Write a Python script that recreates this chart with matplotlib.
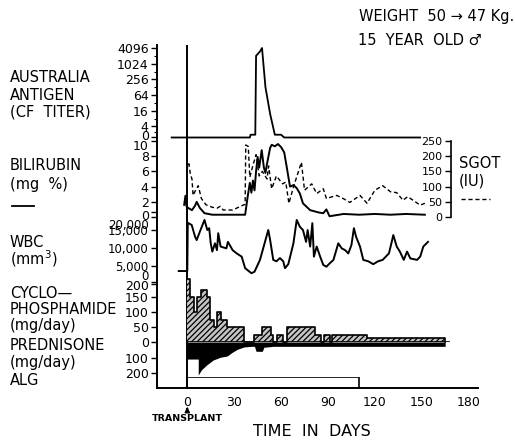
"""
Clinical course chart: antigen titer, bilirubin/SGOT, WBC and immunosuppression
Saves out.png (515x440)
"""

import matplotlib
matplotlib.use("Agg")
import matplotlib.pyplot as plt
from matplotlib.lines import Line2D
from matplotlib.transforms import ScaledTranslation
import numpy as np

# ── Data (days after transplant) ─────────────────────────────────────────────
ag_day = [-10, 40, 40.5, 43.5, 44, 46.5, 47.8, 50, 53, 56, 60, 62, 149]
ag_titer = [0, 0, 1, 1, 2048, 3000, 4096, 128, 12, 1, 1, 0, 0]
ag_ticks = [0, 4, 16, 64, 256, 1024, 4096]

bili_day = [-2, -1.2, -0.5, 0.5, 3, 5, 6, 8, 11, 16, 25, 37, 38.5, 40, 41,
            42, 43, 44, 45, 46, 47.6, 49, 50, 51, 53, 54, 56, 58, 60, 62,
            63.6, 65.7, 68, 70, 72, 74, 78.6, 84, 87, 89, 91, 100, 110, 120,
            130, 140, 152]
bili = [1.6, 2.8, 1.4, 1.2, 0.9, 1.5, 2.0, 1.2, 0.5, 0.3, 0.3, 0.3, 2.5, 4.5,
        3.2, 4.8, 3.5, 6.0, 7.9, 6.5, 8.8, 6.5, 5.8, 7.0, 9.1, 9.5, 9.3, 9.6,
        9.2, 8.5, 6.6, 4.0, 4.2, 3.8, 3.1, 1.8, 0.9, 0.6, 0.5, 1.0, 0.1, 0.4,
        0.3, 0.4, 0.3, 0.4, 0.3]

sgot_day = [-0.5, 1, 2, 3, 3.7, 5, 7, 9, 12, 16, 19, 21, 23, 29, 34, 37,
            37.4, 39, 40, 42, 44, 46, 48, 51, 52, 54, 57, 61, 63, 65, 68, 73,
            75, 79.6, 82.8, 87, 89, 95.6, 100, 104, 110.5, 115, 120, 125, 130,
            134, 138, 141, 149, 152]
sgot = [150, 175, 140, 125, 71, 85, 103, 61, 40, 32, 29, 35, 23, 23, 35, 42,
        237, 232, 131, 170, 205, 135, 150, 125, 168, 93, 135, 109, 115, 45,
        100, 180, 88, 109, 77, 93, 61, 71, 60, 48, 71, 45, 88, 103, 83, 80,
        55, 67, 39, 45]

wbc_day = [-5.5, 0, 0.3, 2.8, 5, 6, 8, 11, 12.8, 14, 15, 16, 17.7, 19, 19.8,
           21.3, 25, 26, 29, 31.6, 34.8, 37, 41, 43, 46.5, 49.7, 51.8, 53, 55,
           57, 59.3, 61.4, 62.5, 64.6, 67.9, 70, 72, 74, 76, 77, 78.6, 80, 81,
           82.8, 85, 87, 89, 91, 93.5, 96.6, 98.8, 101, 103, 105, 106.6, 108,
           110.5, 112.6, 115.8, 119, 122, 125, 129, 130.8, 131.8, 134, 136,
           138.5, 140.6, 142.7, 147, 149, 151, 154]
wbc = [3600, 3600, 17000, 16400, 13100, 12200, 14500, 17800, 15000, 15500,
       11300, 9000, 11300, 9400, 14100, 10400, 9900, 11700, 9400, 8500, 7600,
       4400, 3000, 3400, 6700, 11700, 15000, 12200, 6700, 6300, 7200, 6300,
       4400, 5500, 11300, 17800, 15900, 15000, 11700, 15000, 10400, 16900,
       7600, 10400, 7600, 5300, 4800, 5700, 6700, 11300, 9900, 9400, 8500,
       10800, 15500, 13100, 10400, 6700, 6300, 5500, 6300, 6700, 8500, 11700,
       13600, 10400, 9000, 6700, 9000, 7100, 6700, 7600, 10400, 11700]

# cyclophosphamide: dose from each day until the next listed day
cy_day = [0, 1.7, 4.3, 6, 9, 12.4, 14.5, 17, 19.2, 21.4, 25.6, 36.3, 42.7,
          48, 53.3, 55, 57.2, 61.4, 64, 81.7, 85.3, 87.5, 91.3, 92.4, 114.8,
          165]
cy_dose = [210, 150, 100, 150, 175, 150, 75, 50, 100, 75, 50, 0, 25, 50, 25,
           0, 25, 0, 50, 25, 0, 25, 0, 25, 15, 0]

pred_day = [0, 7, 7, 9, 12.4, 16.6, 21, 25.6, 28.4, 32, 36.3, 41, 43, 44, 48,
            49, 55, 165, 165]
pred_dose = [110, 110, 213, 180, 148, 116, 99, 90, 69, 47, 32, 28, 28, 60, 60,
             34, 28, 28, 0]

alg_start, alg_end = 0, 110
day_ticks = [0, 30, 60, 90, 120, 150, 180]

# ── Layout (pixels of the 515x440 canvas) ────────────────────────────────────
W, H, DPI = 515, 440, 100
X_LEFT, X_RIGHT = 157, 478
DAY0_PX, PX_PER_DAY = 187.3, 1.563

plt.rcParams["font.family"] = "DejaVu Sans"
plt.rcParams["hatch.linewidth"] = 0.9
fig = plt.figure(figsize=(W / DPI, H / DPI), dpi=DPI)


def px2day(x):
    return (x - DAY0_PX) / PX_PER_DAY


def panel(y_top, y_bot):
    ax = fig.add_axes([X_LEFT / W, 1 - y_bot / H,
                       (X_RIGHT - X_LEFT) / W, (y_bot - y_top) / H])
    ax.set_xlim(px2day(X_LEFT), px2day(X_RIGHT))
    ax.patch.set_visible(False)
    for s in ax.spines.values():
        s.set_visible(False)
    ax.tick_params(axis="x", bottom=False, labelbottom=False)
    ax.tick_params(axis="y", direction="out", length=4, width=1,
                   labelsize=9, pad=2)
    return ax


def nudge(ax, shifts):
    # shift crowded tick labels vertically (px, + = down)
    labels = ax.get_yticklabels()
    for i, dy in shifts.items():
        lab = labels[i]
        lab.set_transform(lab.get_transform() +
                          ScaledTranslation(0, -dy / DPI, fig.dpi_scale_trans))


# main frame
ax0 = panel(45, 388)
ax0.set_ylim(0, 1)
ax0.set_yticks([])
for s in ["left", "bottom"]:
    ax0.spines[s].set_visible(True)
    ax0.spines[s].set_linewidth(1.4)
ax0.tick_params(axis="x", bottom=True, labelbottom=True, length=0,
                labelsize=9, pad=6)
ax0.set_xticks(day_ticks)
ax0.axvline(0, color="black", lw=1.4)
ax0.annotate("", xy=(0, -0.047), xytext=(0, -0.072),
             xycoords=("data", "axes fraction"),
             arrowprops=dict(arrowstyle="-|>", color="black", lw=1.2,
                             mutation_scale=7))
ax0.text(0, -0.088, "TRANSPLANT", transform=ax0.get_xaxis_transform(),
         ha="center", va="center", fontsize=6.8, fontweight="bold")


# ── Australia antigen (log-4 titer scale) ────────────────────────────────────
def ag_fwd(v):
    v = np.asarray(v, float)
    return np.where(v >= 4, np.log(np.maximum(v, 4)) / np.log(4),
                    0.29 + 0.71 * v / 4)


def ag_inv(p):
    p = np.asarray(p, float)
    return np.where(p >= 1, 4.0 ** p, (p - 0.29) / 0.71 * 4)


ax1 = panel(48, 137.5)
ax1.set_yscale("function", functions=(ag_fwd, ag_inv))
ax1.set_ylim(0, 4096)
ax1.set_yticks(ag_ticks, [str(t) for t in ag_ticks])
ax1.set_yticks([2, 8, 32, 128, 512, 2048], minor=True)
ax1.tick_params(axis="y", which="minor", length=2.5, width=0.8, direction="out")
ax1.plot(ag_day, ag_titer, color="black", lw=1.3, clip_on=False)
nudge(ax1, {0: -2})

# ── Bilirubin + SGOT ─────────────────────────────────────────────────────────
ax2 = panel(141, 217)
ax2.set_ylim(0, 10)
ax2.set_yticks([0, 2, 4, 6, 8, 10])
ax2.plot(bili_day, bili, color="black", lw=1.4, clip_on=False)
nudge(ax2, {0: -2, 5: 4})

ax_s = panel(141, 217)
ax_s.set_ylim(0, 250)
ax_s.spines["left"].set_visible(True)
ax_s.spines["left"].set_position(("data", px2day(451)))
ax_s.spines["left"].set_linewidth(1.2)
ax_s.set_yticks([0, 50, 100, 150, 200, 250])
ax_s.tick_params(axis="y", labelsize=8)
ax_s.plot(sgot_day, sgot, color="black", lw=1.0, dashes=(3, 2), clip_on=False)

# ── WBC ──────────────────────────────────────────────────────────────────────
ax3 = panel(212, 284)
ax3.set_ylim(0, 20000)
ax3.set_yticks([0, 5000, 10000, 15000, 20000],
               ["0", "5,000", "10,000", "15,000", "20,000"])
ax3.tick_params(axis="y", labelsize=8.5)
ax3.plot(wbc_day, wbc, color="black", lw=1.4, clip_on=False)
nudge(ax3, {0: -9, 4: 12})

# ── Cyclophosphamide (hatched, up) ───────────────────────────────────────────
ax4 = panel(282, 342)
ax4.set_ylim(0, 200)
ax4.set_yticks([0, 50, 100, 150, 200])
ax4.fill_between(cy_day, cy_dose, step="post", facecolor="#c4c4c4",
                 edgecolor="black", hatch="//////", linewidth=0,
                 clip_on=False)
ax4.step(cy_day, cy_dose, where="post", color="black", lw=1.2, clip_on=False)
ax4.hlines(0, 0, 168, color="black", lw=1.2)
nudge(ax4, {4: 3})

# ── Prednisone (solid, down) ─────────────────────────────────────────────────
ax5 = panel(342, 342 + 215 * 0.155)
ax5.set_ylim(215, 0)
ax5.set_yticks([100, 200])
ax5.fill_between(pred_day, pred_dose, color="black", linewidth=0)

# ── ALG ──────────────────────────────────────────────────────────────────────
ax6 = panel(376.7, 388.3)
ax6.set_ylim(0, 1)
ax6.set_yticks([])
ax6.bar(alg_start, 1, width=alg_end - alg_start, bottom=0, align="edge",
        fill=False, edgecolor="black", lw=1.2)

# ── Text ─────────────────────────────────────────────────────────────────────
left_labels = [
    ("AUSTRALIA", 78), ("ANTIGEN", 95), ("(CF  TITER)", 112),
    ("BILIRUBIN", 166), ("(mg  %)", 184),
    ("WBC", 242), ("(mm$^3$)", 259),
    ("CYCLO—", 293), ("PHOSPHAMIDE", 309), ("(mg/day)", 325),
    ("PREDNISONE", 345), ("(mg/day)", 362),
    ("ALG", 380),
]
for txt, y in left_labels:
    fig.text(10 / W, 1 - y / H, txt, fontsize=10.5, va="center", ha="left")

fig.add_artist(Line2D([12 / W, 34 / W], [1 - 206 / H, 1 - 206 / H],
                      color="black", lw=1.3))
fig.text(459 / W, 1 - 163 / H, "SGOT", fontsize=10.5, va="center")
fig.text(459 / W, 1 - 181 / H, "(IU)", fontsize=10.5, va="center")
fig.add_artist(Line2D([461 / W, 490 / W], [1 - 199 / H, 1 - 199 / H],
                      color="black", lw=1.0, dashes=(3, 2)))

fig.text(359 / W, 1 - 17 / H, "WEIGHT  50 → 47 Kg.", fontsize=10.5,
         va="center")
fig.text(358 / W, 1 - 40 / H, "15  YEAR  OLD ♂", fontsize=10.5, va="center")
fig.text(312 / W, 1 - 431 / H, "TIME  IN  DAYS", fontsize=11.5, va="center",
         ha="center")

fig.savefig("out.png", dpi=DPI)
